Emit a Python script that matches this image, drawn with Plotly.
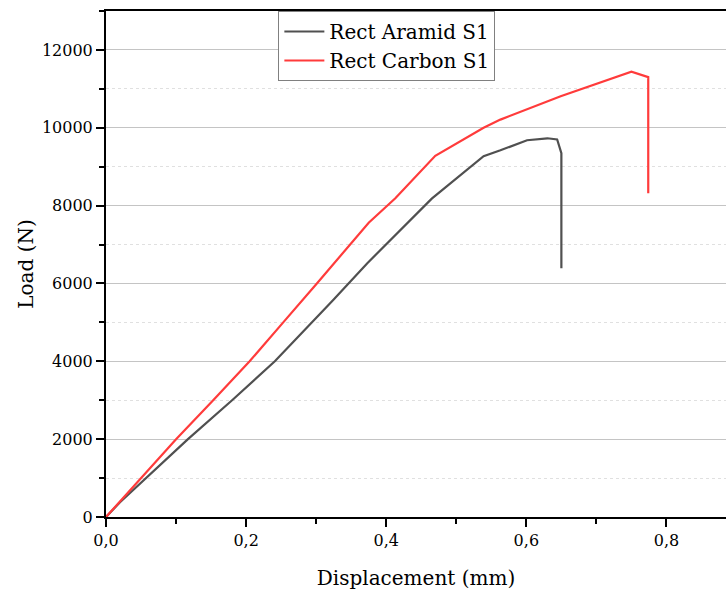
import plotly.graph_objects as go

aramid_x = [0.0, 0.02, 0.117, 0.18, 0.241, 0.294, 0.324, 0.373, 0.434, 0.465, 0.539, 0.563, 0.601, 0.63, 0.644, 0.65, 0.65]
aramid_y = [0, 380, 2000, 3000, 4000, 5000, 5570, 6520, 7620, 8180, 9270, 9420, 9680, 9730, 9700, 9350, 6390]

carbon_x = [0.0, 0.02, 0.1, 0.153, 0.205, 0.253, 0.28, 0.301, 0.375, 0.413, 0.47, 0.539, 0.563, 0.634, 0.649, 0.75, 0.774, 0.774]
carbon_y = [0, 400, 2000, 3000, 4000, 5000, 5550, 6000, 7560, 8190, 9280, 10000, 10210, 10720, 10810, 11440, 11300, 8320]

fig = go.Figure()
fig.add_trace(go.Scatter(x=aramid_x, y=aramid_y, mode="lines", name="Rect Aramid S1",
                         line=dict(color="#505050", width=2.2)))
fig.add_trace(go.Scatter(x=carbon_x, y=carbon_y, mode="lines", name="Rect Carbon S1",
                         line=dict(color="#FF3B3B", width=2.2)))

font = "DejaVu Serif"
fig.update_layout(
    width=726, height=593,
    margin=dict(l=106, r=0, t=11, b=76),
    plot_bgcolor="white", paper_bgcolor="white",
    separators=",.",
    font=dict(family=font, size=16, color="black"),
    legend=dict(x=0.278, y=1.0, xanchor="left", yanchor="top",
                bordercolor="#808080", borderwidth=1, bgcolor="white",
                font=dict(family=font, size=20), tracegroupgap=0, itemwidth=40),
    xaxis=dict(range=[0, 0.885], dtick=0.2, tick0=0, tickformat=".1f",
               showgrid=False, zeroline=False,
               showline=True, linecolor="black", linewidth=2, mirror=True,
               ticks="outside", ticklen=8, tickwidth=2, tickcolor="black",
               minor=dict(dtick=0.1, ticks="outside", ticklen=5, tickwidth=2, tickcolor="black", showgrid=False),
               title=dict(text="Displacement (mm)", font=dict(family=font, size=20), standoff=22),
               tickfont=dict(family=font, size=16)),
    yaxis=dict(range=[0, 13000], dtick=2000, tick0=0, tickformat="d",
               showgrid=True, gridcolor="#C4C4C4", gridwidth=1, zeroline=False,
               showline=True, linecolor="black", linewidth=2,
               ticks="outside", ticklen=8, tickwidth=2, tickcolor="black",
               minor=dict(dtick=1000, ticks="outside", ticklen=5, tickwidth=2, tickcolor="black",
                          showgrid=True, gridcolor="#E0E0E0", griddash="dot", gridwidth=1),
               title=dict(text="Load (N)", font=dict(family=font, size=20), standoff=3),
               tickfont=dict(family=font, size=16)),
)

fig.write_html("out.html")
